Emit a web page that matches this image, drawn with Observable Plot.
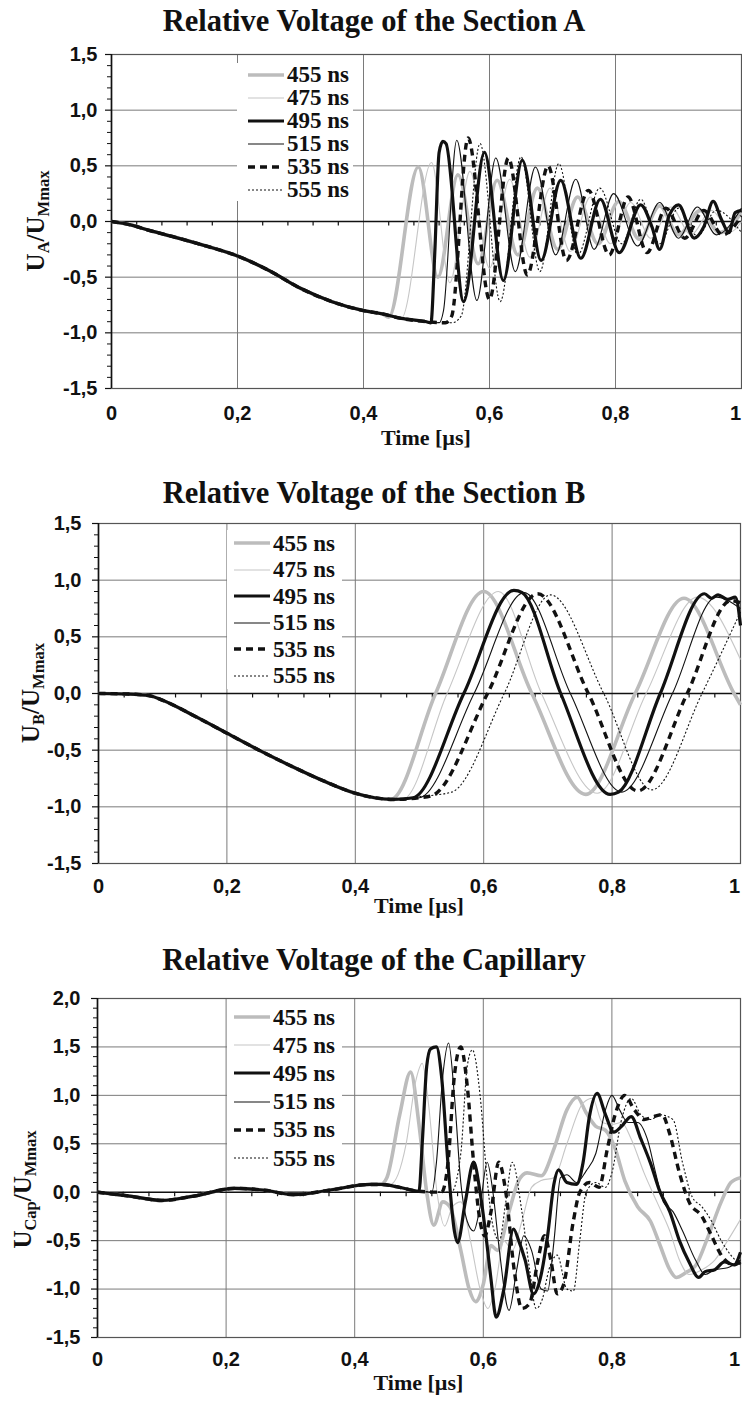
<!DOCTYPE html>
<html><head><meta charset="utf-8">
<script src="https://cdn.jsdelivr.net/npm/d3@7"></script>
<script src="https://cdn.jsdelivr.net/npm/@observablehq/plot@0.6"></script>
<style>
html,body{margin:0;padding:0;background:#fff;}
#root{width:742px;height:1406px;overflow:hidden;position:relative;}
.panel{position:relative;width:742px;}
.title{font-family:"Liberation Serif","Times New Roman",serif;font-weight:bold;font-size:30.5px;text-align:center;color:#111;padding-left:6px;box-sizing:border-box;}
.legend{position:absolute;background:#fff;}
.lrow{display:flex;align-items:center;font-family:"Liberation Serif","Times New Roman",serif;font-weight:bold;font-size:23px;line-height:1;color:#111;white-space:nowrap;overflow:hidden;}
.lrow span{line-height:1;}
.lrow svg{display:block;margin-right:3px;}
svg{overflow:visible;}
</style></head>
<body><div id="root"></div>
<script>
// ---------------- data ----------------
const seriesNames = ["455 ns", "475 ns", "495 ns", "515 ns", "535 ns", "555 ns"];
const xMajorTicks = [0, 0.2, 0.4, 0.6, 0.8, 1];
const xMinorTicks = [0.04,0.08,0.12,0.16,0.24,0.28,0.32,0.36,0.44,0.48,0.52,0.56,0.64,0.68,0.72,0.76,0.84,0.88,0.92,0.96];
const yMajorAB = [-1.5, -1, -0.5, 0, 0.5, 1, 1.5];
const yMinorAB = [-1.4,-1.3,-1.2,-1.1,-0.9,-0.8,-0.7,-0.6,-0.4,-0.3,-0.2,-0.1,0.1,0.2,0.3,0.4,0.6,0.7,0.8,0.9,1.1,1.2,1.3,1.4];
const yMajorC = [-1.5, -1, -0.5, 0, 0.5, 1, 1.5, 2];
const yMinorC = [-1.4,-1.3,-1.2,-1.1,-0.9,-0.8,-0.7,-0.6,-0.4,-0.3,-0.2,-0.1,0.1,0.2,0.3,0.4,0.6,0.7,0.8,0.9,1.1,1.2,1.3,1.4,1.6,1.7,1.8,1.9];

// Section A: [time µs, U/Umax]
const A_common = [[0,0],[0.03,-0.03],[0.06,-0.08],[0.1,-0.14],[0.15,-0.22],[0.2,-0.31],[0.25,-0.44],[0.3,-0.6],[0.35,-0.72],[0.4,-0.8],[0.43,-0.83]];
const A_455 = [[0.44,-0.86],[0.487,0.49],[0.518,-0.5],[0.55,0.42],[0.582,-0.38],[0.612,0.37],[0.645,-0.3],[0.676,0.3],[0.708,-0.25],[0.74,0.22],[0.772,-0.2],[0.805,0.18],[0.838,-0.16],[0.87,0.14],[0.9,-0.12],[0.935,0.1],[0.965,-0.1],[1,0.08]];
const A_475 = [[0.44,-0.85],[0.46,-0.87],[0.508,0.53],[0.537,-0.55],[0.569,0.45],[0.6,-0.42],[0.632,0.38],[0.664,-0.32],[0.696,0.3],[0.728,-0.27],[0.76,0.22],[0.792,-0.2],[0.824,0.17],[0.856,-0.15],[0.888,0.13],[0.92,-0.12],[0.952,0.1],[0.984,-0.09],[1,0]];
const A_495 = [[0.46,-0.87],[0.5,-0.9],[0.507,-0.91],[0.513,-0.3],[0.52,0.62],[0.526,0.72],[0.531,0.7],[0.559,-0.72],[0.592,0.62],[0.622,-0.53],[0.652,0.55],[0.682,-0.35],[0.713,0.37],[0.745,-0.33],[0.776,0.2],[0.806,-0.28],[0.84,0.15],[0.858,-0.05],[0.87,-0.25],[0.885,0.05],[0.9,0.15],[0.925,-0.15],[0.94,-0.05],[0.955,0.18],[0.968,0.02],[0.98,-0.1],[0.99,0.08],[1,0.1]];
const A_515 = [[0.46,-0.87],[0.5,-0.9],[0.52,-0.91],[0.527,-0.8],[0.548,0.73],[0.58,-0.71],[0.61,0.57],[0.641,-0.45],[0.673,0.49],[0.705,-0.3],[0.737,0.38],[0.766,-0.25],[0.797,0.25],[0.835,-0.22],[0.87,0.17],[0.9,-0.15],[0.93,0.13],[0.96,-0.12],[1,0.12]];
const A_535 = [[0.46,-0.87],[0.5,-0.9],[0.53,-0.91],[0.54,-0.85],[0.566,0.75],[0.6,-0.7],[0.63,0.57],[0.66,-0.48],[0.693,0.5],[0.722,-0.35],[0.757,0.28],[0.79,-0.3],[0.82,0.22],[0.85,-0.28],[0.88,0.12],[0.91,-0.15],[0.94,0.1],[0.97,-0.12],[1,0.05]];
const A_555 = [[0.46,-0.87],[0.5,-0.9],[0.54,-0.91],[0.555,-0.85],[0.585,0.7],[0.617,-0.72],[0.65,0.58],[0.68,-0.45],[0.71,0.52],[0.74,-0.3],[0.775,0.3],[0.81,-0.2],[0.84,0.2],[0.87,-0.2],[0.9,0.12],[0.93,-0.13],[0.96,0.1],[1,-0.1]];

// Section B
const B_common = [[0,0],[0.05,-0.005],[0.08,-0.02],[0.1,-0.06],[0.15,-0.2],[0.2,-0.35],[0.25,-0.5],[0.3,-0.64],[0.35,-0.77],[0.4,-0.88],[0.43,-0.92]];
const B_455 = [[0.455,-0.935],[0.525,0],[0.6,0.9],[0.675,0],[0.759,-0.89],[0.836,0],[0.912,0.84],[0.99,0],[1,-0.1]];
const B_475 = [[0.46,-0.935],[0.475,-0.93],[0.543,0],[0.623,0.9],[0.69,0],[0.777,-0.88],[0.853,0],[0.933,0.85],[1,0.3]];
const B_495 = [[0.46,-0.935],[0.49,-0.92],[0.569,0],[0.647,0.91],[0.66,0.89],[0.72,0],[0.797,-0.89],[0.81,-0.87],[0.875,0],[0.944,0.88],[0.955,0.84],[0.965,0.87],[0.98,0.83],[0.992,0.85],[1,0.6]];
const B_515 = [[0.46,-0.935],[0.5,-0.92],[0.585,0],[0.663,0.89],[0.735,0],[0.815,-0.87],[0.894,0],[0.962,0.85],[1,0.75]];
const B_535 = [[0.46,-0.935],[0.5,-0.92],[0.52,-0.9],[0.606,0],[0.684,0.88],[0.763,0],[0.84,-0.86],[0.917,0],[0.985,0.82],[1,0.8]];
const B_555 = [[0.46,-0.935],[0.5,-0.91],[0.55,-0.87],[0.632,0],[0.704,0.87],[0.787,0],[0.862,-0.85],[0.94,0],[1,0.72]];

// Capillary
const C_common = [[0,0],[0.05,-0.04],[0.1,-0.085],[0.15,-0.04],[0.213,0.04],[0.26,0.02],[0.305,-0.025],[0.36,0.02],[0.424,0.08],[0.44,0.08]];
const C_455 = [[0.45,0.15],[0.47,0.8],[0.487,1.24],[0.5,0.7],[0.512,0.0],[0.523,-0.34],[0.537,-0.1],[0.548,-0.15],[0.565,-0.6],[0.578,-1.0],[0.588,-1.13],[0.6,-0.95],[0.612,-0.55],[0.622,-0.6],[0.64,-0.2],[0.655,0.12],[0.668,0.2],[0.69,0.17],[0.71,0.45],[0.73,0.85],[0.746,0.98],[0.76,0.82],[0.775,0.68],[0.79,0.64],[0.805,0.45],[0.82,0.12],[0.84,-0.15],[0.86,-0.3],[0.875,-0.55],[0.89,-0.8],[0.9,-0.88],[0.915,-0.83],[0.93,-0.76],[0.95,-0.45],[0.97,-0.1],[0.985,0.1],[1,0.15]];
const C_475 = [[0.455,0.08],[0.48,0.5],[0.495,1.15],[0.505,1.33],[0.515,0.9],[0.528,0.0],[0.54,-0.35],[0.552,-0.15],[0.565,-0.1],[0.58,-0.5],[0.595,-1.0],[0.607,-1.2],[0.618,-1.0],[0.632,-0.5],[0.645,-0.6],[0.66,-0.3],[0.675,0.05],[0.69,0.12],[0.71,0.15],[0.73,0.5],[0.755,0.92],[0.77,0.97],[0.785,0.72],[0.8,0.7],[0.815,0.72],[0.83,0.55],[0.85,0.2],[0.87,-0.1],[0.89,-0.4],[0.905,-0.7],[0.92,-0.85],[0.94,-0.8],[0.96,-0.7],[0.98,-0.5],[1,-0.28]];
const C_495 = [[0.47,0.05],[0.5,0.01],[0.505,0.5],[0.512,1.3],[0.518,1.48],[0.527,1.5],[0.535,1.2],[0.545,0.3],[0.555,-0.4],[0.56,-0.52],[0.572,-0.1],[0.585,0.31],[0.595,0.0],[0.605,-0.5],[0.612,-0.9],[0.62,-1.29],[0.632,-1.0],[0.647,-0.38],[0.655,-0.5],[0.665,-0.7],[0.678,-1.05],[0.69,-0.85],[0.7,-0.45],[0.71,0.09],[0.717,0.23],[0.73,0.1],[0.745,0.08],[0.755,0.3],[0.765,0.78],[0.777,1.02],[0.79,0.8],[0.803,0.62],[0.815,0.68],[0.83,0.78],[0.845,0.55],[0.86,0.3],[0.875,0.0],[0.89,-0.2],[0.905,-0.5],[0.92,-0.72],[0.935,-0.88],[0.945,-0.82],[0.96,-0.8],[0.975,-0.72],[0.99,-0.75],[1,-0.62]];
const C_515 = [[0.47,0.05],[0.5,0.01],[0.52,0.0],[0.527,0.3],[0.537,1.2],[0.546,1.54],[0.555,1.0],[0.565,0.1],[0.575,-0.3],[0.585,-0.4],[0.595,-0.15],[0.606,0.31],[0.615,0.0],[0.625,-0.6],[0.64,-1.22],[0.652,-0.8],[0.663,-0.45],[0.675,-0.6],[0.69,-1.0],[0.7,-1.02],[0.71,-0.5],[0.72,0.15],[0.73,0.18],[0.745,0.1],[0.76,0.22],[0.775,0.4],[0.79,0.85],[0.8,1.0],[0.812,0.85],[0.825,0.72],[0.84,0.72],[0.855,0.55],[0.868,0.2],[0.88,-0.1],[0.895,-0.2],[0.91,-0.4],[0.93,-0.7],[0.945,-0.85],[0.96,-0.8],[0.98,-0.78],[1,-0.7]];
const C_535 = [[0.47,0.05],[0.5,0.01],[0.535,0.0],[0.545,0.3],[0.555,1.2],[0.565,1.5],[0.575,1.1],[0.585,0.3],[0.595,-0.3],[0.602,-0.45],[0.612,-0.2],[0.624,0.31],[0.635,0.0],[0.648,-0.8],[0.66,-1.2],[0.672,-1.15],[0.685,-0.7],[0.695,-0.45],[0.705,-0.7],[0.715,-1.05],[0.725,-0.95],[0.74,-0.3],[0.75,0.0],[0.765,0.1],[0.78,0.05],[0.793,0.45],[0.805,0.8],[0.82,1.0],[0.835,0.85],[0.85,0.75],[0.865,0.78],[0.878,0.8],[0.89,0.6],[0.905,0.2],[0.92,-0.1],[0.94,-0.25],[0.955,-0.45],[0.97,-0.65],[0.99,-0.75],[1,-0.72]];
const C_555 = [[0.47,0.05],[0.5,0.01],[0.55,0.0],[0.565,0.4],[0.575,1.3],[0.583,1.47],[0.595,1.0],[0.605,0.2],[0.615,-0.35],[0.625,-0.5],[0.635,-0.1],[0.645,0.31],[0.66,-0.2],[0.672,-0.8],[0.682,-1.2],[0.692,-1.1],[0.702,-0.8],[0.715,-0.65],[0.73,-1.0],[0.74,-1.02],[0.75,-0.5],[0.76,0.0],[0.775,0.1],[0.79,0.05],[0.8,0.2],[0.815,0.75],[0.83,0.97],[0.845,0.8],[0.86,0.75],[0.875,0.8],[0.895,0.75],[0.91,0.3],[0.925,-0.05],[0.94,-0.15],[0.955,-0.3],[0.97,-0.5],[0.985,-0.65],[1,-0.75]];

// ---------------- styles ----------------
const seriesStyle = [
  {stroke: "#bcbcbc", width: 3.6, dash: null},
  {stroke: "#c6c6c6", width: 1.1, dash: null},
  {stroke: "#111", width: 3.2, dash: null},
  {stroke: "#111", width: 1.1, dash: null},
  {stroke: "#111", width: 3.4, dash: "7,5"},
  {stroke: "#111", width: 1.1, dash: "2,2"}
];

const panels = [
  {title: "Relative Voltage of the Section A", titleH: 42, svgH: 428, mt: 12, mb: 82, ml: 111, mr: 1,
   yDomain: [-1.5, 1.5], yMajor: yMajorAB, yMinor: yMinorAB, yPad: 8, xPad: 17,
   sub: "A", ylabX: 35, ylabShift: 0, timeY: 52,
   common: A_common, series: [A_455, A_475, A_495, A_515, A_535, A_555],
   legend: {left: 237, top: 63, width: 116, step: 23, swLeft: 11}},
  {title: "Relative Voltage of the Section B", titleH: 46, svgH: 420, mt: 7, mb: 73, ml: 98, mr: 2,
   yDomain: [-1.5, 1.5], yMajor: yMajorAB, yMinor: yMinorAB, yPad: 11, xPad: 15,
   sub: "B", ylabX: 30, ylabShift: 0, timeY: 45,
   common: B_common, series: [B_455, B_475, B_495, B_515, B_535, B_555],
   legend: {left: 227, top: 60, width: 115, step: 26.5, swLeft: 7}},
  {title: "Relative Voltage of the Capillary", titleH: 48, svgH: 422, mt: 14, mb: 69, ml: 97, mr: 2,
   yDomain: [-1.5, 2.0], yMajor: yMajorC, yMinor: yMinorC, yPad: 11, xPad: 14,
   sub: "Cap", ylabX: 22, ylabShift: 22, timeY: 48,
   common: C_common, series: [C_455, C_475, C_495, C_515, C_535, C_555],
   legend: {left: 227, top: 67, width: 115, step: 28.2, swLeft: 7}}
];

const fmtY = d => d3.format(".1f")(d).replace("\u2212", "-").replace(".", ",");
const fmtX = d => (d === 0 ? "0" : d === 1 ? "1" : String(d).replace(".", ","));

const root = document.getElementById("root");

panels.forEach(p => {
  const wrap = document.createElement("div");
  wrap.className = "panel";
  const t = document.createElement("div");
  t.className = "title";
  t.style.height = p.titleH + "px";
  t.style.lineHeight = p.titleH + "px";
  t.textContent = p.title;
  wrap.appendChild(t);

  const plotH = p.svgH - p.mt - p.mb;
  const unitPx = plotH / (p.yDomain[1] - p.yDomain[0]);
  const minorLen = 4.5 / unitPx;

  const lines = p.series.map((s, i) => {
    const st = seriesStyle[i];
    const data = p.common.concat(s);
    return Plot.line(data, {
      x: d => d[0], y: d => d[1], curve: "monotone-x",
      stroke: st.stroke, strokeWidth: st.width,
      strokeDasharray: st.dash, strokeLinejoin: "round", strokeLinecap: "butt"
    });
  });

  const tickFont = {fontSize: 20, fontWeight: "bold", fill: "#111"};

  const chart = Plot.plot({
    width: 742, height: p.svgH,
    marginTop: p.mt, marginBottom: p.mb, marginLeft: p.ml, marginRight: p.mr,
    x: {domain: [0, 1]},
    y: {domain: p.yDomain},
    style: {fontFamily: "'Liberation Sans', Arial, sans-serif", fontSize: "20px", fontWeight: "bold", color: "#111", background: "transparent", overflow: "visible"},
    marks: [
      Plot.ruleX(xMajorTicks.filter(d => d > 0 && d < 1), {stroke: "#7a7a7a", strokeWidth: 1}),
      Plot.ruleY(p.yMajor.filter(d => d !== 0), {stroke: "#7a7a7a", strokeWidth: 1}),
      Plot.frame({stroke: "#555", strokeWidth: 1.2}),
      Plot.ruleY([0], {stroke: "#111", strokeWidth: 1.6}),
      Plot.ruleX([0], {stroke: "#111", strokeWidth: 1.6}),
      Plot.ruleX(xMinorTicks, {y1: 0, y2: -minorLen, stroke: "#111", strokeWidth: 1.2}),
      Plot.axisY({ticks: p.yMajor, tickSize: 6, tickPadding: p.yPad, tickFormat: fmtY, label: null, strokeWidth: 1.2, ...tickFont}),
      Plot.axisY({ticks: p.yMinor, tickSize: 4, tickFormat: () => "", label: null, strokeWidth: 1}),
      Plot.axisX({ticks: xMajorTicks.filter(d => d < 1), tickSize: 0, tickPadding: p.xPad, tickFormat: fmtX, label: null, ...tickFont}),
      Plot.axisX({ticks: [1], tickSize: 0, tickPadding: p.xPad, tickFormat: fmtX, label: null, dx: -6, ...tickFont}),
      ...lines
    ]
  });

  const svgEl = chart.tagName.toLowerCase() === "svg" ? chart : chart.querySelector("svg");
  const svg = d3.select(svgEl);
  // y-axis label with subscripts
  const cy = p.mt + plotH / 2 + p.ylabShift;
  const yl = svg.append("text")
    .attr("transform", `translate(${p.ylabX + 9},${cy}) rotate(-90)`)
    .attr("text-anchor", "middle")
    .style("font-family", "'Liberation Serif','Times New Roman',serif")
    .style("font-weight", "bold").style("font-size", "25px").attr("fill", "#111");
  yl.append("tspan").text("U");
  yl.append("tspan").text(p.sub).style("font-size", "16.5px").attr("dy", "5");
  yl.append("tspan").text("/U").attr("dy", "-5");
  yl.append("tspan").text("Mmax").style("font-size", "16.5px").attr("dy", "5");
  // x-axis label
  svg.append("text")
    .attr("x", p.ml + (742 - p.ml - p.mr) / 2)
    .attr("y", p.mt + plotH + p.timeY)
    .attr("text-anchor", "middle").attr("dominant-baseline", "middle")
    .style("font-family", "'Liberation Serif','Times New Roman',serif")
    .style("font-weight", "bold").style("font-size", "22px").attr("fill", "#111")
    .text("Time [µs]");

  wrap.appendChild(chart);

  // legend
  const L = p.legend;
  const lg = document.createElement("div");
  lg.className = "legend";
  lg.style.left = L.left + "px";
  lg.style.top = L.top + "px";
  lg.style.width = L.width + "px";
  seriesNames.forEach((name, i) => {
    const st = seriesStyle[i];
    const row = document.createElement("div");
    row.className = "lrow";
    row.style.height = L.step + "px";
    row.style.paddingLeft = L.swLeft + "px";
    row.innerHTML = `<svg width="36" height="12"><line x1="0" x2="36" y1="6" y2="6" stroke="${st.stroke}" stroke-width="${st.width}" ${st.dash ? `stroke-dasharray="${st.dash}"` : ""}/></svg><span>${name}</span>`;
    lg.appendChild(row);
  });
  wrap.appendChild(lg);
  root.appendChild(wrap);
});
</script>
</body></html>
